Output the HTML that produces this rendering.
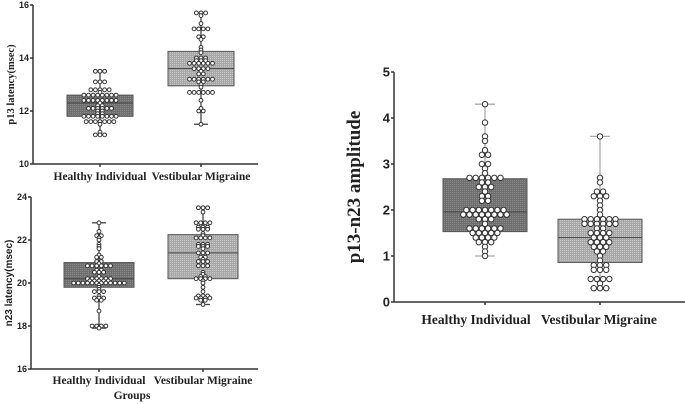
<!DOCTYPE html>
<html><head><meta charset="utf-8"><style>
html,body{margin:0;padding:0;background:#fff;width:685px;height:404px;overflow:hidden}
svg text{font-family:"Liberation Serif",serif;font-weight:bold;fill:#222}
svg .num{font-family:"Liberation Sans",sans-serif}
</style></head><body>
<svg id="chart" width="685" height="404" viewBox="0 0 685 404" xmlns="http://www.w3.org/2000/svg">
<defs>
<pattern id="pd" width="2" height="2" patternUnits="userSpaceOnUse"><rect width="2" height="2" fill="#6f6f6f"/><rect width="1" height="1" fill="#8a8a8a"/></pattern>
<pattern id="pl" width="2" height="2" patternUnits="userSpaceOnUse"><rect width="2" height="2" fill="#a8a8a8"/><rect width="1" height="1" fill="#c8c8c8"/></pattern>
</defs>
</svg>
<script>
const categories = ["Healthy Individual", "Vestibular Migraine"];
// panel 1: p13 latency
const p13Ticks = [10, 12, 14, 16];
const p13Box = [[11.1, 11.8, 12.3, 12.6, 13.5], [11.5, 12.95, 13.6, 14.25, 15.7]];
const p13HI = [[13.5,3],[13.1,3],[12.8,5],[12.7,1],[12.6,8],[12.4,8],[12.3,1],[12.2,2],[12.1,6],[12.0,2],[11.9,2],[11.8,8],[11.6,7],[11.5,1],[11.2,1],[11.1,3]];
const p13VM = [[15.7,3],[15.6,1],[15.3,1],[15.1,4],[14.8,2],[14.7,1],[14.4,1],[14.3,1],[14.2,1],[14.0,3],[13.9,3],[13.8,6],[13.6,4],[13.5,1],[13.4,2],[13.2,6],[13.1,2],[13.0,1],[12.9,1],[12.7,6],[12.4,1],[12.1,1],[12.0,2],[11.5,1]];
// panel 2: n23 latency
const n23Ticks = [16, 18, 20, 22, 24];
const n23Box = [[17.9, 19.8, 20.2, 20.95, 22.8], [19.0, 20.2, 21.4, 22.25, 23.5]];
const n23HI = [[22.8,1],[22.4,1],[22.2,2],[22.1,1],[22.0,1],[21.8,1],[21.7,1],[21.6,1],[21.3,1],[21.2,2],[21.0,2],[20.9,1],[20.8,6],[20.6,2],[20.5,3],[20.3,1],[20.2,6],[20.1,5],[20.0,12],[19.9,1],[19.8,1],[19.7,1],[19.6,3],[19.4,1],[19.3,3],[19.2,2],[18.7,1],[18.0,4],[17.9,1]];
const n23VM = [[23.5,3],[23.3,1],[22.8,4],[22.6,3],[22.5,3],[22.3,1],[22.2,1],[22.1,4],[21.8,3],[21.7,3],[21.6,1],[21.4,3],[21.2,2],[21.1,1],[21.0,3],[20.8,3],[20.5,1],[20.4,1],[20.3,2],[20.2,4],[20.1,1],[20.0,1],[19.8,1],[19.6,1],[19.4,3],[19.3,4],[19.2,2],[19.0,1]];
// panel 3: amplitude
const ampTicks = [0, 1, 2, 3, 4, 5];
const ampBox = [[1.0, 1.53, 1.96, 2.68, 4.3], [0.3, 0.86, 1.4, 1.8, 3.6]];
const ampHI = [[4.3,1],[3.9,1],[3.6,1],[3.5,1],[3.3,1],[3.2,2],[3.0,2],[2.9,1],[2.8,1],[2.7,6],[2.6,2],[2.5,3],[2.4,1],[2.3,2],[2.2,2],[2.0,7],[1.9,8],[1.8,3],[1.7,1],[1.6,6],[1.5,5],[1.4,4],[1.3,3],[1.2,1],[1.1,1],[1.0,1]];
const ampVM = [[3.6,1],[2.7,1],[2.6,1],[2.4,2],[2.3,3],[2.2,1],[2.1,1],[2.0,1],[1.9,1],[1.8,6],[1.7,6],[1.6,2],[1.5,4],[1.4,3],[1.3,4],[1.2,3],[1.1,2],[1.0,1],[0.9,1],[0.8,3],[0.7,3],[0.5,4],[0.4,1],[0.3,3]];

const svg = document.getElementById('chart');
const NS = 'http://www.w3.org/2000/svg';
function mk(tag, attrs, parent){const e=document.createElementNS(NS,tag);for(const k in attrs)e.setAttribute(k,attrs[k]);(parent||svg).appendChild(e);return e;}

function panel(p){
  const g = mk('g',{});
  
  
  const lo=p.ticks[0], hi=p.ticks[p.ticks.length-1];
  const y = v => p.y0 + (v-lo)/(hi-lo)*(p.y1-p.y0);
  const xc = i => p.cx[i];
  const ya = mk('line',{x1:p.ax,y1:p.y1,x2:p.ax,y2:p.y0,stroke:'#333','stroke-width':1.5},g);
  
  
  const xa = mk('line',{x1:p.ax,y1:p.y0,x2:p.xEnd,y2:p.y0,stroke:'#333','stroke-width':1.5},g);
  
  
  p.ticks.forEach(t=>{
    mk('line',{x1:p.ax-3,x2:p.ax,y1:y(t),y2:y(t),stroke:'#333','stroke-width':1.5},g);
    const tx = mk('text',{x:p.ax-4,y:y(t)+p.fs*0.35,'text-anchor':'end','font-size':p.fs,class:'num'},g);
    tx.textContent=t;
    
    
  });
  categories.forEach((c,i)=>{
    mk('line',{x1:xc(i),x2:xc(i),y1:p.y0,y2:p.y0+3,stroke:'#333','stroke-width':1.5},g);
    const tx = mk('text',{x:xc(i)+p.labOff[i],y:p.y0+p.catDy,'text-anchor':'middle','font-size':p.catFs},g);
    tx.textContent=c;
    
    
    const b = p.box[i];
    const bg = mk('g',{},g);
    
    
    const wc = p.whisk;
    mk('line',{x1:xc(i),x2:xc(i),y1:y(b[0]),y2:y(b[4]),stroke:wc,'stroke-width':1.3},bg);
    mk('line',{x1:xc(i)-p.cap,x2:xc(i)+p.cap,y1:y(b[0]),y2:y(b[0]),stroke:wc,'stroke-width':1.3},bg);
    mk('line',{x1:xc(i)-p.cap,x2:xc(i)+p.cap,y1:y(b[4]),y2:y(b[4]),stroke:wc,'stroke-width':1.3},bg);
    mk('rect',{x:xc(i)-p.bw/2,y:y(b[3]),width:p.bw,height:y(b[1])-y(b[3]),fill:i===0?'url(#pd)':'url(#pl)',stroke:'#555','stroke-width':1},bg);
    mk('line',{x1:xc(i)-p.bw/2,x2:xc(i)+p.bw/2,y1:y(b[2]),y2:y(b[2]),stroke:'#444','stroke-width':1},bg);
    p.pts[i].forEach(([v,n])=>{
      for(let k=0;k<n;k++){
        const off=(k-(n-1)/2)*p.sp;
        const d = mk('circle',{cx:xc(i)+off,cy:y(v),r:p.r,fill:'#fff',stroke:'#333','stroke-width':1},bg);
        
        
      }
    });
  });
  const yl = mk('text',{transform:`translate(${p.ylx},${(p.y0+p.y1)/2}) rotate(-90)`,'text-anchor':'middle','font-size':p.ylFs,class:p.ylCls||''},g);
  yl.textContent=p.ylabel;
  
  
}

panel({name:'p13-panel',ticks:p13Ticks,box:p13Box,pts:[p13HI,p13VM],ax:33,xEnd:258,y0:164,y1:5,cx:[100,201],labOff:[0,0],bw:66,cap:7,sp:4.6,r:1.9,fs:9,catFs:11.5,catDy:16,whisk:'#444',ylabel:'p13 latency(msec)',ylx:14,ylFs:10.5});
panel({name:'n23-panel',ticks:n23Ticks,box:n23Box,pts:[n23HI,n23VM],ax:31,xEnd:258,y0:369,y1:197,cx:[99,203],labOff:[0,0],bw:70,cap:7,sp:4.6,r:1.9,fs:9,catFs:11.5,catDy:15,whisk:'#444',ylabel:'n23 latency(msec)',ylx:12,ylFs:10,ylCls:'num'});
panel({name:'amplitude-panel',ticks:ampTicks,box:ampBox,pts:[ampHI,ampVM],ax:394,xEnd:685,y0:302,y1:72,cx:[485,600],labOff:[-9,-1],bw:84,cap:10,sp:6.2,r:2.7,fs:13,catFs:13.5,catDy:22,whisk:'#aaa',ylabel:'p13-n23 amplitude',ylx:360,ylFs:19});

const gl = mk('text',{x:132,y:399,'text-anchor':'middle','font-size':11.5});
gl.textContent='Groups';


</script>
</body></html>
